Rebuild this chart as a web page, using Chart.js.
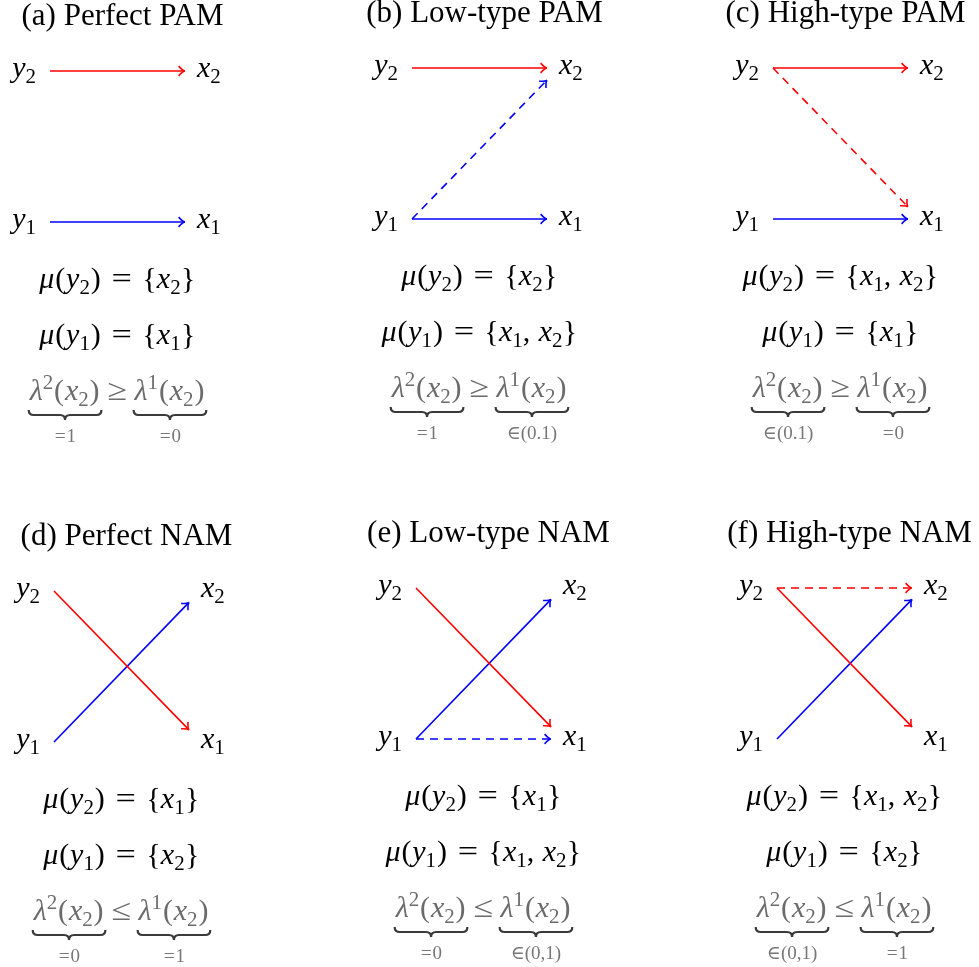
<!DOCTYPE html>
<html>
<head>
<meta charset="utf-8">
<script src="https://cdn.jsdelivr.net/npm/chart.js@4.4.1/dist/chart.umd.min.js"></script>
<style>
  html, body { margin: 0; padding: 0; background: #fff; }
  body { position: relative; width: 979px; height: 967px; overflow: hidden; }
  canvas { position: absolute; }
</style>
</head>
<body>
<canvas id="pa" width="270" height="470"></canvas>
<canvas id="pb" width="270" height="470"></canvas>
<canvas id="pc" width="270" height="470"></canvas>
<canvas id="pd" width="270" height="470"></canvas>
<canvas id="pe" width="270" height="470"></canvas>
<canvas id="pf" width="270" height="470"></canvas>
<script>
// --- diagram data -------------------------------------------------------
// worker side y sits at x = 0, firm side x at x = 1; type 1 at y = 1, type 2 at y = 2
const panelTitles = ['(a) Perfect PAM', '(b) Low-type PAM', '(c) High-type PAM',
                     '(d) Perfect NAM', '(e) Low-type NAM', '(f) High-type NAM'];

// each arrow: worker type, start (x, y), end (x, y), dashed?
const arrowsPerfectPAM = [
  { worker: 2, from: [0, 2], to: [1, 2], dashed: false },
  { worker: 1, from: [0, 1], to: [1, 1], dashed: false }
];
const arrowsLowPAM = [
  { worker: 2, from: [0, 2], to: [1, 2], dashed: false },
  { worker: 1, from: [0, 1], to: [1, 1], dashed: false },
  { worker: 1, from: [0, 1], to: [1, 1.92], dashed: true }
];
const arrowsHighPAM = [
  { worker: 2, from: [0, 2], to: [1, 2], dashed: false },
  { worker: 1, from: [0, 1], to: [1, 1], dashed: false },
  { worker: 2, from: [0, 2], to: [1, 1.08], dashed: true }
];
const arrowsPerfectNAM = [
  { worker: 2, from: [0, 2], to: [1, 1.08], dashed: false },
  { worker: 1, from: [0, 1], to: [1, 1.925], dashed: false }
];
const arrowsLowNAM = [
  { worker: 2, from: [0, 2], to: [1, 1.08], dashed: false },
  { worker: 1, from: [0, 1], to: [1, 1.925], dashed: false },
  { worker: 1, from: [0, 1], to: [1, 1], dashed: true }
];
const arrowsHighNAM = [
  { worker: 2, from: [0, 2], to: [1, 2], dashed: true },
  { worker: 2, from: [0, 2], to: [1, 1.08], dashed: false },
  { worker: 1, from: [0, 1], to: [1, 1.925], dashed: false }
];

const matchY2 = ['{x_2}', '{x_2}', '{x_1, x_2}', '{x_1}', '{x_1}', '{x_1, x_2}'];
const matchY1 = ['{x_1}', '{x_1, x_2}', '{x_1}', '{x_2}', '{x_1, x_2}', '{x_2}'];
const relations = ['≥', '≥', '≥', '≤', '≤', '≤'];
const lambda2Values = ['=1', '=1', '∈(0.1)', '=0', '=0', '∈(0,1)'];
const lambda1Values = ['=0', '∈(0.1)', '=0', '=1', '∈(0,1)', '=1'];

// --- layout -----------------------------------------------------------
const canvasIds = ['pa', 'pb', 'pc', 'pd', 'pe', 'pf'];
const placements = [[-10, -9], [352, -12], [713, -12], [-6, 511], [356, 508], [717, 508]];
const allArrows = [arrowsPerfectPAM, arrowsLowPAM, arrowsHighPAM,
                   arrowsPerfectNAM, arrowsLowNAM, arrowsHighNAM];
const workerColors = { 1: '#0000ff', 2: '#ff0000' };
const FONT = '"Liberation Serif", "DejaVu Serif", serif';

// advance (in em) for glyphs that are wider in Computer Modern;
// relation glyphs get stretched to fill most of it
const cmWidths = { '=': 0.78, '≥': 0.78, '≤': 0.78, '∈': 0.67, '(': 0.39, ')': 0.39, '{': 0.5, '}': 0.5 };
const stretchy = { '=': 0.68, '≥': 0.66, '≤': 0.66 };

// tiny math typesetter: letters italic, _x subscript, ^x superscript
function parseMath(s) {
  const toks = [];
  for (let i = 0; i < s.length; i++) {
    let c = s[i], level = 0;
    if (c === '_' || c === '^') { level = c === '_' ? -1 : 1; c = s[++i]; }
    if (c === ' ') { toks.push({ space: true }); continue; }
    toks.push({ c: c, level: level, it: /[A-Za-zμλ]/.test(c) });
  }
  return toks;
}
function tokSize(t, size) { return t.level ? size * 0.7 : size; }
function mathFont(t, size) {
  return (t.it ? 'italic ' : '') + tokSize(t, size) + 'px ' + FONT;
}
function advance(ctx, t, size, tight) {
  ctx.font = mathFont(t, size);
  const w = ctx.measureText(t.c).width;
  const min = (cmWidths[t.c] || 0) * tokSize(t, size) * (tight ? 0.85 : 1);
  return Math.max(w, min);
}
function measureMath(ctx, s, size, tight) {
  let w = 0;
  parseMath(s).forEach(t => {
    if (t.space) { w += size * 0.28; return; }
    w += advance(ctx, t, size, tight);
  });
  return w;
}
function drawMath(ctx, s, x, y, size, color, tight) {
  ctx.fillStyle = color;
  ctx.textBaseline = 'alphabetic';
  ctx.textAlign = 'center';
  let cx = x;
  parseMath(s).forEach(t => {
    if (t.space) { cx += size * 0.28; return; }
    const adv = advance(ctx, t, size, tight);
    ctx.font = mathFont(t, size);
    const dy = t.level === -1 ? size * 0.2 : (t.level === 1 ? -size * 0.38 : 0);
    const gw = ctx.measureText(t.c).width;
    const target = (stretchy[t.c] || 0) * tokSize(t, size) * (tight ? 0.85 : 1);
    if (target > gw) {
      ctx.save();
      ctx.translate(cx + adv / 2, y + dy);
      ctx.scale(target / gw, 1);
      ctx.fillText(t.c, 0, 0);
      ctx.restore();
    } else {
      ctx.fillText(t.c, cx + adv / 2, y + dy);
    }
    cx += adv;
  });
  return cx - x;
}
function underbrace(ctx, x0, x1, y) {
  const m = (x0 + x1) / 2, h = 5;
  ctx.beginPath();
  ctx.moveTo(x0, y);
  ctx.quadraticCurveTo(x0, y + h, x0 + h, y + h);
  ctx.lineTo(m - h, y + h);
  ctx.quadraticCurveTo(m, y + h, m, y + 2 * h);
  ctx.quadraticCurveTo(m, y + h, m + h, y + h);
  ctx.lineTo(x1 - h, y + h);
  ctx.quadraticCurveTo(x1, y + h, x1, y);
  ctx.stroke();
}

const diagramPlugin = {
  id: 'diagram',
  afterDatasetsDraw(chart, args, opts) {
    const ctx = chart.ctx;
    const xs = chart.scales.x, ys = chart.scales.y;
    ctx.save();

    // arrow heads
    chart.data.datasets.forEach((ds, i) => {
      const pts = chart.getDatasetMeta(i).data;
      const p0 = pts[0], p1 = pts[1];
      const a = Math.atan2(p1.y - p0.y, p1.x - p0.x);
      const L = 8, th = 0.65;
      ctx.strokeStyle = ds.borderColor;
      ctx.lineWidth = 1.6;
      ctx.setLineDash([]);
      ctx.beginPath();
      ctx.moveTo(p1.x - L * Math.cos(a - th), p1.y - L * Math.sin(a - th));
      ctx.quadraticCurveTo(p1.x - 2 * Math.cos(a), p1.y - 2 * Math.sin(a), p1.x, p1.y);
      ctx.quadraticCurveTo(p1.x - 2 * Math.cos(a), p1.y - 2 * Math.sin(a),
                           p1.x - L * Math.cos(a + th), p1.y - L * Math.sin(a + th));
      ctx.stroke();
    });

    // node labels
    const left = xs.getPixelForValue(0), right = xs.getPixelForValue(1);
    const row2 = ys.getPixelForValue(2), row1 = ys.getPixelForValue(1);
    const ms = 30;
    [['y_2', row2], ['y_1', row1]].forEach(([s, r]) => {
      const w = measureMath(ctx, s, ms);
      drawMath(ctx, s, left - 14 - w, r + 6, ms, '#000');
    });
    [['x_2', row2], ['x_1', row1]].forEach(([s, r]) => {
      drawMath(ctx, s, right + 12, r + 6, ms, '#000');
    });

    const cx = (left + right) / 2;

    // title
    ctx.fillStyle = '#000';
    ctx.font = '31px ' + FONT;
    ctx.textAlign = 'center';
    ctx.textBaseline = 'alphabetic';
    ctx.fillText(opts.title, cx + 5, row2 - 46);

    // matching sets
    const l2 = 'μ(y_2) = ' + opts.m2, l1 = 'μ(y_1) = ' + opts.m1;
    drawMath(ctx, l2, cx - measureMath(ctx, l2, ms) / 2, row1 + 66, ms, '#000');
    drawMath(ctx, l1, cx - measureMath(ctx, l1, ms) / 2, row1 + 122, ms, '#000');

    // lambda inequality with underbraces
    const g1 = 'λ^2(x_2)', g2 = 'λ^1(x_2)';
    const w1 = measureMath(ctx, g1, ms), w2 = measureMath(ctx, g2, ms);
    const wr = measureMath(ctx, opts.rel, ms);
    const gap = ms * 0.18;
    const total = w1 + gap + wr + gap + w2;
    const x0 = cx - total / 2, yb = row1 + 178;
    const grey = '#6b6b6b';
    drawMath(ctx, g1, x0, yb, ms, grey);
    drawMath(ctx, opts.rel, x0 + w1 + gap, yb, ms, grey);
    const x2 = x0 + w1 + gap + wr + gap;
    drawMath(ctx, g2, x2, yb, ms, grey);

    ctx.strokeStyle = '#3a3a3a';
    ctx.lineWidth = 2.2;
    underbrace(ctx, x0 - 1, x0 + w1 + 1, row1 + 188);
    underbrace(ctx, x2 - 1, x2 + w2 + 1, row1 + 188);

    const ss = 19;
    const s2w = measureMath(ctx, opts.v2, ss, true), s1w = measureMath(ctx, opts.v1, ss, true);
    drawMath(ctx, opts.v2, x0 + w1 / 2 - s2w / 2, row1 + 220, ss, '#777', true);
    drawMath(ctx, opts.v1, x2 + w2 / 2 - s1w / 2, row1 + 220, ss, '#777', true);

    ctx.restore();
  }
};

canvasIds.forEach((id, k) => {
  const cv = document.getElementById(id);
  cv.style.left = placements[k][0] + 'px';
  cv.style.top = placements[k][1] + 'px';

  new Chart(cv, {
    type: 'scatter',
    data: {
      datasets: allArrows[k].map(a => ({
        data: [{ x: a.from[0], y: a.from[1] }, { x: a.to[0], y: a.to[1] }],
        showLine: true,
        borderColor: workerColors[a.worker],
        borderWidth: 1.6,
        borderDash: a.dashed ? [8, 6] : [],
        pointRadius: 0,
        fill: false,
        clip: false
      }))
    },
    options: {
      responsive: false,
      animation: false,
      events: [],
      layout: { padding: { left: 60, right: 75, top: 80, bottom: 239 } },
      scales: {
        x: { type: 'linear', min: 0, max: 1, display: false },
        y: { type: 'linear', min: 1, max: 2, display: false }
      },
      plugins: {
        legend: { display: false },
        tooltip: { enabled: false },
        diagram: {
          title: panelTitles[k],
          m2: matchY2[k],
          m1: matchY1[k],
          rel: relations[k],
          v2: lambda2Values[k],
          v1: lambda1Values[k]
        }
      }
    },
    plugins: [diagramPlugin]
  });
});
</script>
</body>
</html>
